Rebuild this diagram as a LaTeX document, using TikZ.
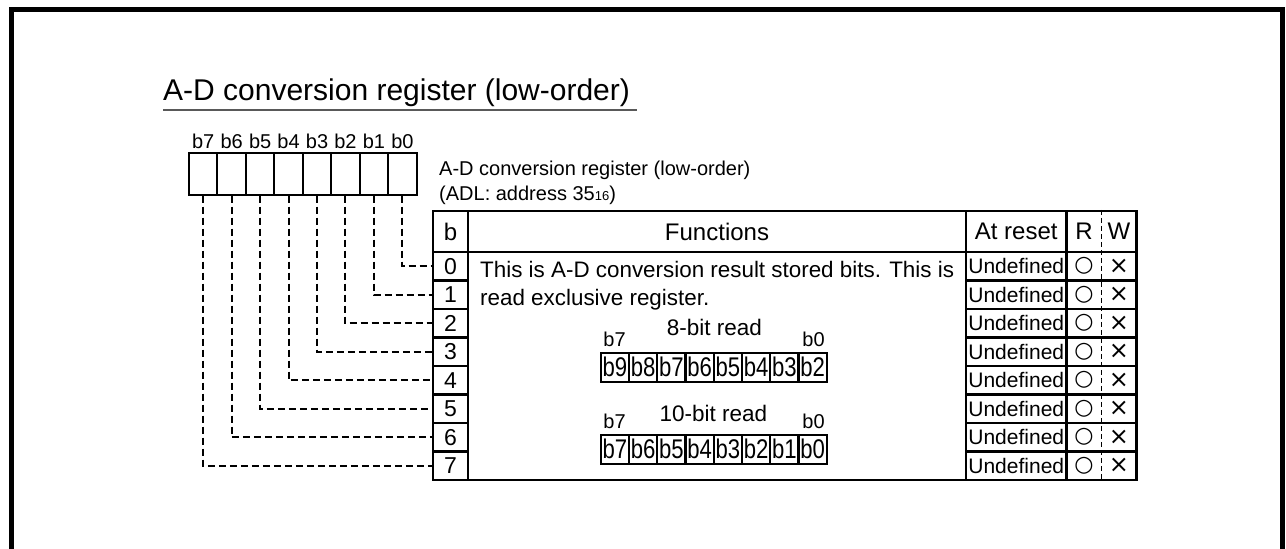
\documentclass[tikz,border=0pt]{standalone}
\usepackage{fontspec}
\setmainfont{Liberation Sans}
\newfontfamily\symfont{DejaVu Sans}
\newfontfamily\narrowfont[FakeStretch=0.82]{Liberation Sans}
\newcommand\fsz[1]{\fontsize{#1}{#1}\selectfont}
\begin{document}
\begin{tikzpicture}[x=1pt,y=-1pt,
  regbox/.style={draw,line width=2pt,minimum width=28.45pt,minimum height=42pt,inner sep=0pt},
  tcell/.style={draw,line width=2.4pt,inner sep=0pt,minimum height=28.5pt},
  hcell/.style={draw,line width=2.4pt,inner sep=0pt,minimum height=41pt,font=\fsz{24}},
  bitcell/.style={draw,line width=2.2pt,inner sep=0pt,minimum width=28.25pt,minimum height=29pt,font=\narrowfont\fsz{27}},
  conn/.style={line width=2pt,dash pattern=on 7pt off 4pt},
  divider/.style={line width=1.5pt,dash pattern=on 5pt off 3pt},
  lbl/.style={anchor=base,inner sep=0pt}]
\useasboundingbox (0,0) rectangle (1286,549);
% frame
\draw[line width=5pt] (11.5,549) -- (11.5,9) -- (1282,9) -- (1282,549);
% title
\node[anchor=base west,inner sep=0pt,font=\fsz{30}] (title) at (163,100) {A-D conversion register (low-order)};
\coordinate (ulA) at (163,110);
\coordinate (ulB) at (637,110);
\draw[line width=2pt,black!65] (ulA) -- (ulB);
% register label
\node[anchor=base west,inner sep=0pt,font=\fsz{20}] (rname) at (439,175) {A-D conversion register (low-order)};
\node[anchor=base west,inner sep=0pt,font=\fsz{20}] (raddr) at (439,200) {(ADL: address 35{\fsz{13}16})};
% header
\node[hcell,minimum width=35pt] (hb) at (450.5,231.5) {b};
\node[hcell,minimum width=498pt] (hf) at (717,231.5) {Functions};
\node[hcell,minimum width=100.5pt] (hr) at (1016.25,231.5) {At reset};
\node[hcell,minimum width=70pt] (hrw) at (1101.5,231.5) {};
\node[font=\fsz{24},inner sep=0pt] (hR) at (1084,231.5) {R};
\node[font=\fsz{24},inner sep=0pt] (hW) at (1119,231.5) {W};
% functions body
\node[tcell,minimum width=498pt,minimum height=228pt] (fb) at (717,366) {};
\foreach \i in {0,...,7}{
  \pgfmathsetmacro\cx{189+28.45*(7.5-\i)}
  \pgfmathsetmacro\cy{252+28.5*\i+14.25}
  \node[regbox] (r\i) at (\cx,173.5) {};
  \node[lbl,font=\fsz{20}] (rl\i) at (\cx,148) {b\i};
  \node[tcell,minimum width=35pt,font=\fsz{23}] (bc\i) at (450.5,\cy) {\i};
  \node[tcell,minimum width=100.5pt,font=\fsz{21}] (rs\i) at (1016.25,\cy) {Undefined};
  \node[tcell,minimum width=70pt] (rw\i) at (1101.5,\cy) {};
  \node[font=\symfont\fsz{22},inner sep=0pt] (ro\i) at (1084,\cy) {○};
  \node[font=\symfont\fsz{24},inner sep=0pt] (wx\i) at (1119,\cy) {×};
  \draw[conn] (r\i.south) |- (bc\i.west);
}
\draw[divider] (hrw.north) -- (rw7.south);
% function text
\node[anchor=base west,inner sep=0pt,font=\fsz{22.4}] (ft1) at (480,277) {This is A-D conversion result stored bits. This is};
\node[anchor=base west,inner sep=0pt,font=\fsz{22.4}] (ft2) at (480,305) {read exclusive register.};
% 8-bit read
\node[lbl,font=\fsz{22.5}] (t8) at (714.5,335) {8-bit read};
\node[lbl,font=\fsz{20}] (t8a) at (614.5,346.7) {b7};
\node[lbl,font=\fsz{20}] (t8b) at (813.5,346.7) {b0};
\foreach \t [count=\k from 0] in {b9,b8,b7,b6,b5,b4,b3,b2}{
  \node[bitcell] (ea\k) at ({600.7+28.25*(\k+0.5)},367.2) {\t};
}
% 10-bit read
\node[lbl,font=\fsz{22.5}] (t10) at (713.5,421) {10-bit read};
\node[lbl,font=\fsz{20}] (t10a) at (614.5,428.3) {b7};
\node[lbl,font=\fsz{20}] (t10b) at (813.5,428.3) {b0};
\foreach \t [count=\k from 0] in {b7,b6,b5,b4,b3,b2,b1,b0}{
  \node[bitcell] (eb\k) at ({600.7+28.25*(\k+0.5)},449.2) {\t};
}
\end{tikzpicture}
\end{document}
